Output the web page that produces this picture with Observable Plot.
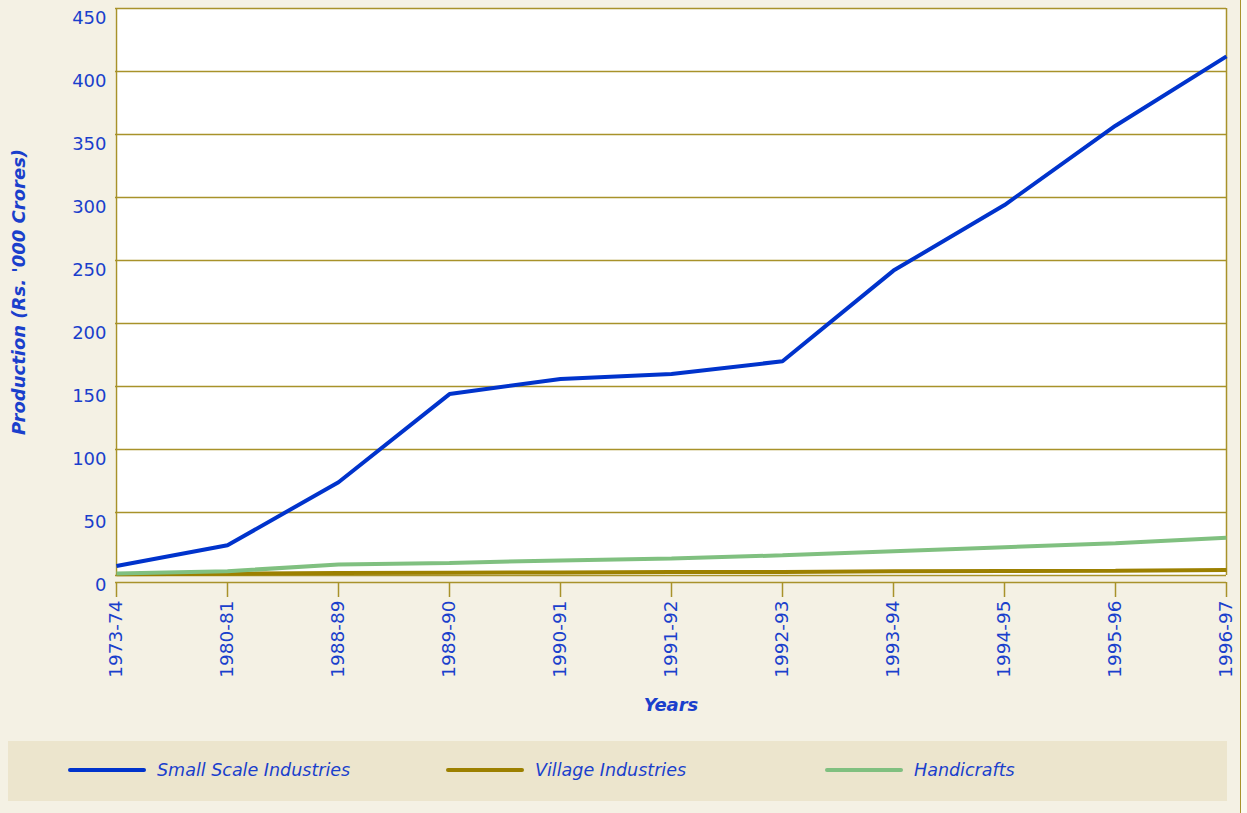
<!DOCTYPE html>
<html>
<head>
<meta charset="utf-8">
<script src="https://cdn.jsdelivr.net/npm/d3@7"></script>
<script src="https://cdn.jsdelivr.net/npm/@observablehq/plot@0.6"></script>
<style>
  html, body { margin: 0; padding: 0; background: #f4f1e4; }
  #wrap { position: relative; width: 1247px; height: 813px; background: #f4f1e4; overflow: hidden; font-family: "DejaVu Sans", sans-serif; }
  #edge { position: absolute; left: 1240px; top: 0; width: 1px; height: 813px; background: #a8922a; }
  #edge2 { position: absolute; left: 1241px; top: 0; width: 6px; height: 813px; background: #fbf9f1; }
  #legend { position: absolute; left: 8px; top: 741px; width: 1219px; height: 60px; background: #ece5cd; }
  .item { position: absolute; top: 0; height: 58px; display: flex; align-items: center; }
  .swatch { width: 78px; height: 4px; border-radius: 2px; margin-right: 11px; }
  .lab { font-style: italic; font-size: 17.5px; color: #1a3fcc; }
  svg { display: block; }
</style>
</head>
<body>
<div id="wrap">
  <div id="chart"></div>
  <div id="legend"></div>
  <div id="edge"></div>
  <div id="edge2"></div>
</div>
<script>
const years = ["1973-74","1980-81","1988-89","1989-90","1990-91","1991-92","1992-93","1993-94","1994-95","1995-96","1996-97"];
const smallScale = [7.5, 24, 74, 144, 156, 160, 170, 242, 294, 357, 412];
const village = [1.0, 1.4, 2.0, 2.2, 2.4, 2.8, 2.7, 3.3, 3.5, 3.7, 4.4];
const handicrafts = [1.5, 3.4, 8.7, 10, 12, 13.5, 16, 19.3, 22.5, 25.6, 30];
const seriesNames = ["Small Scale Industries", "Village Industries", "Handicrafts"];
const seriesColors = ["#0033cc", "#9c8000", "#80c080"];
const yTicks = [0, 50, 100, 150, 200, 250, 300, 350, 400, 450];

const seriesValues = [smallScale, village, handicrafts];
const rows = [];
seriesNames.forEach((s, i) => years.forEach((y, j) => rows.push({series: s, year: y, value: seriesValues[i][j]})));

const grid = "#a8922a";
const textBlue = "#1a3fcc";

const chart = Plot.plot({
  width: 1247,
  height: 735,
  marginLeft: 115,
  marginRight: 21,
  marginTop: 8,
  marginBottom: 160,
  style: { fontFamily: "DejaVu Sans, sans-serif", background: "transparent", color: textBlue, overflow: "visible" },
  x: { type: "point", domain: years, padding: 0 },
  y: { domain: [0, 450] },
  color: { domain: seriesNames, range: seriesColors },
  marks: [
    Plot.frame({ fill: "white", stroke: null }),
    Plot.gridY(yTicks, { stroke: grid, strokeOpacity: 1, strokeWidth: 1.5 }),
    Plot.ruleX([years[0], years[years.length - 1]], { stroke: grid, strokeWidth: 1.5 }),
    Plot.ruleY([0], { stroke: grid, strokeWidth: 1.5, dy: 7 }),
    Plot.axisY(yTicks, {
      anchor: "left", tickSize: 0, tickPadding: 9, dy: 10,
      fontSize: 18, fill: textBlue,
      label: "Production (Rs. '000 Crores)", labelAnchor: "center", labelArrow: "none", labelOffset: 103
    }),
    Plot.axisX(years, {
      anchor: "bottom", tickSize: 15, tickPadding: 3, tickRotate: -90, dy: 7,
      stroke: grid, strokeOpacity: 1, strokeWidth: 1.5,
      fontSize: 18.5, fill: textBlue,
      label: "Years", labelAnchor: "center", labelArrow: "none", labelOffset: 135
    }),
    Plot.line(rows, { x: "year", y: "value", z: "series", stroke: "series", strokeWidth: 4, strokeLinejoin: "miter", strokeLinecap: "butt" })
  ]
});

chart.querySelectorAll("g[aria-label='y-axis label'] text, g[aria-label='x-axis label'] text").forEach(t => {
  t.setAttribute("font-weight", "bold");
  t.setAttribute("font-style", "italic");
  t.setAttribute("font-size", "18");
  t.setAttribute("fill", textBlue);
});
document.getElementById("chart").appendChild(chart);

const legend = document.getElementById("legend");
const lefts = [60, 438, 817];
seriesNames.forEach((s, i) => {
  const it = document.createElement("div");
  it.className = "item";
  it.style.left = lefts[i] + "px";
  it.innerHTML = `<div class="swatch" style="background:${seriesColors[i]}"></div><span class="lab">${s}</span>`;
  legend.appendChild(it);
});
</script>
</body>
</html>
